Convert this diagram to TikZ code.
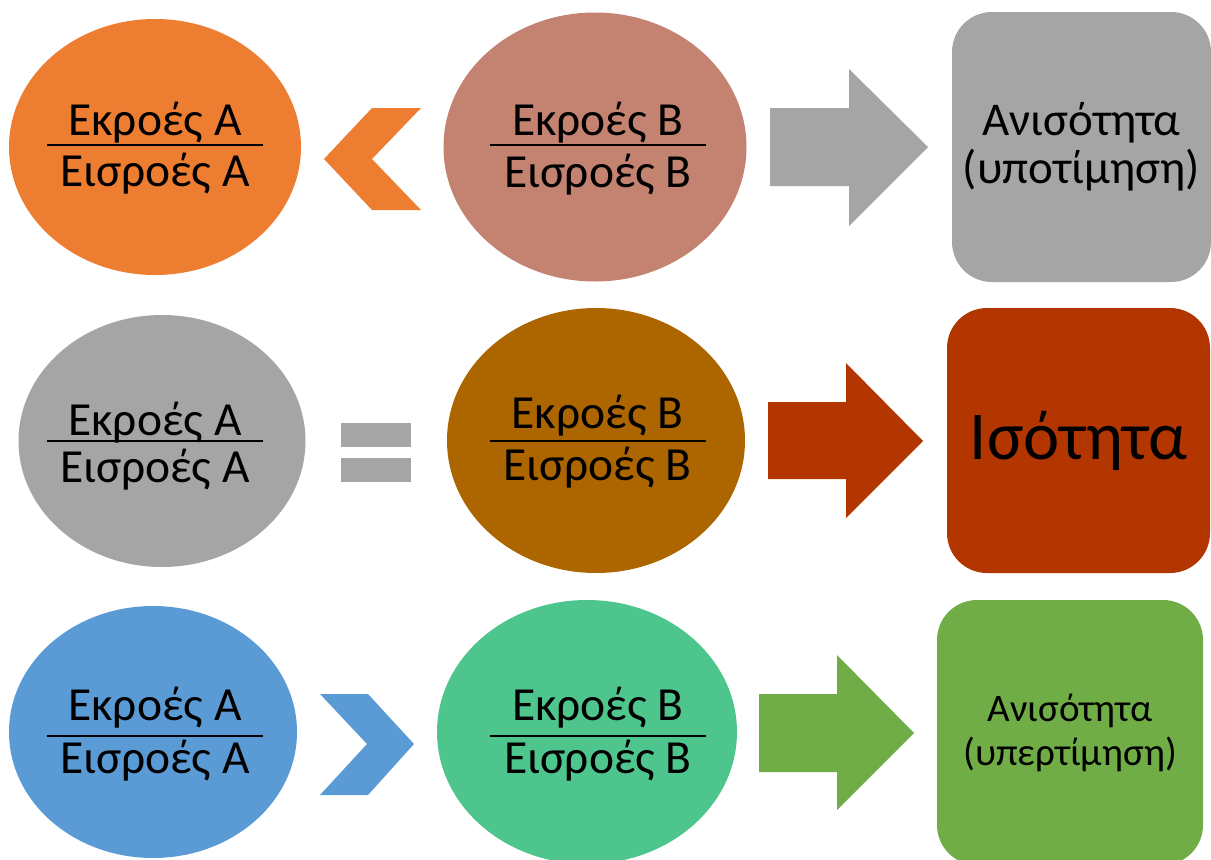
\documentclass[tikz,border=0pt]{standalone}
\usepackage{fontspec}
\setmainfont{Carlito}
\usetikzlibrary{shapes.geometric}
\definecolor{cOrange}{HTML}{ED7D31}
\definecolor{cRose}{HTML}{C48270}
\definecolor{cGray}{HTML}{A5A5A5}
\definecolor{cBronze}{HTML}{AD6500}
\definecolor{cRust}{HTML}{B33500}
\definecolor{cBlue}{HTML}{5B9BD5}
\definecolor{cMint}{HTML}{4EC58D}
\definecolor{cGreen}{HTML}{70AD47}
\newcommand{\fractext}[7]{% name, x, y, gap above, gap below, top, bottom
  \node[fracnum] (#1n) at (#2,#3-#4) {#6};
  \node[fracnum] (#1d) at (#2,#3+#5) {#7};
  \draw[fracline] (#2-108,#3) -- (#2+108,#3);
}
\begin{document}
\begin{tikzpicture}[x=1pt,y=-1pt,
  blob/.style={ellipse, draw=none, inner sep=0pt},
  fracnum/.style={anchor=base, inner sep=0pt, font=\fontsize{47.5}{50}\selectfont},
  fracline/.style={line width=2.6pt, black},
  resbox/.style={rounded corners=40pt, draw=none, inner sep=0pt, align=center},
]
\useasboundingbox (0,0) rectangle (1211,860);
\fill[white] (0,0) rectangle (1211,860);

% ---------- row 1 ----------
\node[blob, fill=cOrange, minimum width=292pt, minimum height=256pt] (e1) at (155,147) {};
\fractext{e1}{155}{145}{10}{41}{Εκροές Α}{Εισροές Α}
\fill[cOrange] (372,108) -- (421,108) -- (372,159) -- (421,210) -- (372,210) -- (324,159) -- cycle;
\node[blob, fill=cRose, minimum width=303pt, minimum height=269pt] (e2) at (595,147) {};
\fractext{e2}{598}{145}{10}{42}{Εκροές Β}{Εισροές Β}
\fill[cGray] (770,108) -- (849,108) -- (849,69) -- (928,147) -- (849,226) -- (849,186) -- (770,186) -- cycle;
\node[resbox, fill=cGray, minimum width=259pt, minimum height=270pt, font=\fontsize{47}{50}\selectfont] (r1) at (1081.5,147) {Ανισότητα\\[-2pt](υποτίμηση)};

% ---------- row 2 ----------
\node[blob, fill=cGray, minimum width=287pt, minimum height=252pt] (e3) at (162,441) {};
\fractext{e3}{155}{441}{6}{41}{Εκροές Α}{Εισροές Α}
\fill[cGray] (341,423) rectangle (411,447);
\fill[cGray] (341,458) rectangle (411,482);
\node[blob, fill=cBronze, minimum width=298pt, minimum height=265pt] (e4) at (596,440.5) {};
\fractext{e4}{597.5}{441}{13}{39}{Εκροές Β}{Εισροές Β}
\fill[cRust] (768,402) -- (846,402) -- (846,363) -- (923,441) -- (846,518) -- (846,479) -- (768,479) -- cycle;
\node[resbox, fill=cRust, minimum width=263pt, minimum height=265pt, font=\fontsize{68.5}{72}\selectfont] (r2) at (1078.5,440.5) {Ισότητα};

% ---------- row 3 ----------
\node[blob, fill=cBlue, minimum width=288pt, minimum height=252pt] (e5) at (153,732) {};
\fractext{e5}{155}{736}{16}{37}{Εκροές Α}{Εισροές Α}
\fill[cBlue] (320,694) -- (368,694) -- (414,744) -- (368,795) -- (320,795) -- (367,744) -- cycle;
\node[blob, fill=cMint, minimum width=300pt, minimum height=264pt] (e6) at (587,732) {};
\fractext{e6}{598}{736}{16}{37}{Εκροές Β}{Εισροές Β}
\fill[cGreen] (759,694) -- (837,694) -- (837,655) -- (914,733) -- (837,810) -- (837,772) -- (759,772) -- cycle;
\node[resbox, fill=cGreen, minimum width=266pt, minimum height=265pt, font=\fontsize{39}{44}\selectfont] (r3) at (1070,732.5) {Ανισότητα\\(υπερτίμηση)};
\end{tikzpicture}
\end{document}
